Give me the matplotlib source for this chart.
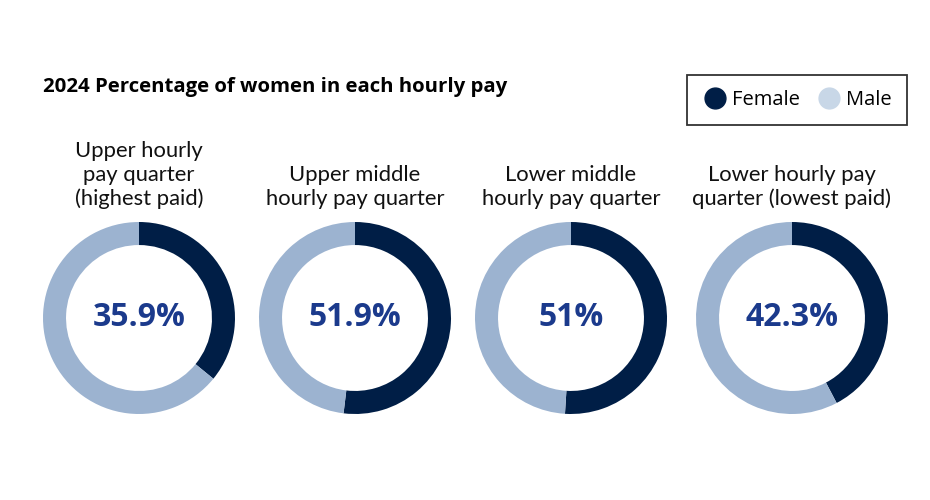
import matplotlib.pyplot as plt
from matplotlib.lines import Line2D

quarters = [
    "Upper hourly\npay quarter\n(highest paid)",
    "Upper middle\nhourly pay quarter",
    "Lower middle\nhourly pay quarter",
    "Lower hourly pay\nquarter (lowest paid)",
]
female_pct = [35.9, 51.9, 51.0, 42.3]
male_pct = [100 - v for v in female_pct]

female_col = "#001e46"
male_col = "#9cb3d0"
male_legend_col = "#c8d7e7"
pct_col = "#1b3a8c"

W, H = 930, 500
fig = plt.figure(figsize=(9.3, 5), dpi=100)
fig.patch.set_facecolor("white")

# title
fig.text(43 / W, 1 - 87 / H, "2024 Percentage of women in each hourly pay",
         fontsize=14.7, fontweight="bold", family="Open Sans",
         va="center", ha="left", color="black")

centers_x = [139, 355, 571, 792]
cy = 318
r = 96

for i, cx in enumerate(centers_x):
    ax = fig.add_axes([(cx - r) / W, 1 - (cy + r) / H, 2 * r / W, 2 * r / H])
    ax.pie([female_pct[i], male_pct[i]], colors=[female_col, male_col],
           startangle=90, counterclock=False,
           wedgeprops=dict(width=0.24, edgecolor="none"))
    ax.set_xlim(-1, 1)
    ax.set_ylim(-1, 1)
    ax.axis("off")
    ax.text(0, 0, f"{female_pct[i]:g}%", ha="center", va="center",
            fontsize=23, fontweight="bold", family="Open Sans", color=pct_col)
    # quarter label, bottom aligned above donut
    fig.text(cx / W, 1 - 209 / H, quarters[i], ha="center", va="bottom",
             fontsize=15.8, family="Lato", color="#111111", linespacing=1.22)

handles = [
    Line2D([], [], marker="o", ls="none", markersize=15, color=female_col, label="Female"),
    Line2D([], [], marker="o", ls="none", markersize=15, color=male_legend_col, label="Male"),
]
leg = fig.legend(handles=handles, loc="upper right", bbox_to_anchor=(907 / W, 1 - 75 / H),
                 ncol=2, frameon=True, fancybox=False, handletextpad=0.2,
                 columnspacing=0.8, borderpad=0.75, handlelength=1.3,
                 borderaxespad=0, prop={"family": "Open Sans", "size": 14.5})
leg.get_frame().set_edgecolor("black")
leg.get_frame().set_linewidth(1.3)

plt.savefig("out.png", dpi=100)
